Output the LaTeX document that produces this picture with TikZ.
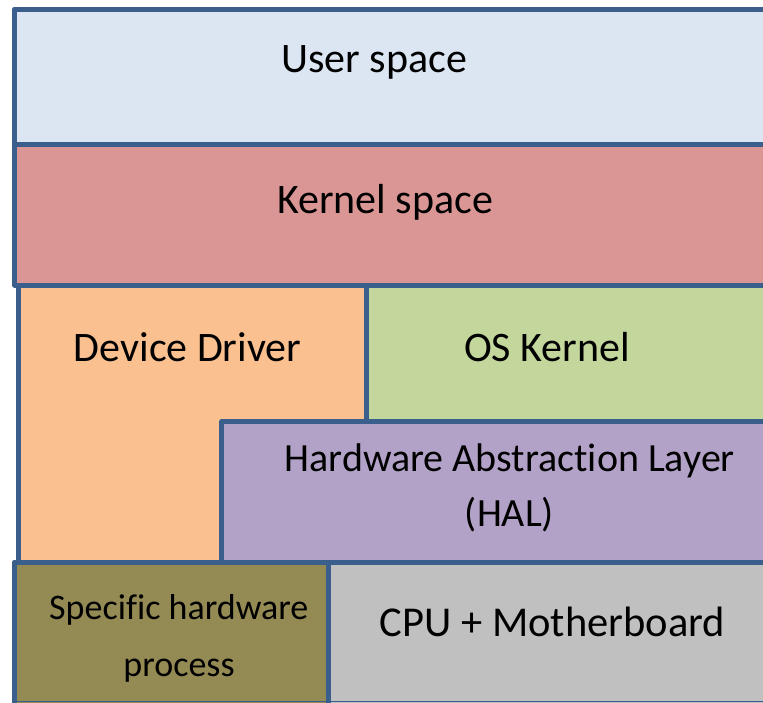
\documentclass[tikz,border=0pt]{standalone}
\usepackage{fontspec}
\setmainfont{Carlito}[Ligatures=NoCommon]
\definecolor{bord}{HTML}{3A5F8C}
\definecolor{userc}{HTML}{DCE6F2}
\definecolor{kernc}{HTML}{D99694}
\definecolor{ddc}{HTML}{FAC090}
\definecolor{osc}{HTML}{C3D69B}
\definecolor{halc}{HTML}{B3A2C7}
\definecolor{hwc}{HTML}{948A54}
\definecolor{cpuc}{HTML}{C0C0C0}
\begin{document}
\begin{tikzpicture}[x=1pt,y=-1pt,
  edge/.style={draw=bord,line width=5pt,line join=round,line cap=rect},
  lbl/.style={inner sep=0pt,anchor=base,text=black},
  big/.style={font=\fontsize{42}{50}\selectfont},
  cpuf/.style={font=\fontsize{42.5}{50}\selectfont},
  mid/.style={font=\fontsize{40}{48}\selectfont},
  small/.style={font=\fontsize{36}{43}\selectfont}]
\useasboundingbox (0,0) rectangle (763,702);
\begin{scope}
\clip (0,0) rectangle (763,702);
% fills
\fill[userc] (14.5,9) rectangle (790,144);
\fill[kernc] (14.5,144) rectangle (790,285);
\fill[ddc] (18,285) rectangle (366.5,562);
\fill[osc] (366.5,285) rectangle (790,421.5);
\fill[halc] (221.5,421.5) rectangle (790,562);
\fill[hwc] (14.5,562) rectangle (328,705);
\fill[cpuc] (328,562) rectangle (790,705);
% borders
\draw[edge] (790,9) -- (14.5,9) -- (14.5,285) -- (790,285);
\draw[edge] (14.5,144) -- (790,144);
\draw[edge] (18,285) -- (18,562);
\draw[edge] (366.5,285) -- (366.5,421.5);
\draw[edge] (790,421.5) -- (221.5,421.5) -- (221.5,562);
\draw[edge] (790,562) -- (14.5,562) -- (14.5,705);
\draw[edge] (328,562) -- (328,705);
\draw[bord,line width=1pt] (14.5,701.6) -- (790,701.6);
\end{scope}
% labels
\node[lbl,big] (user) at (374.2,72.7) {User space};
\node[lbl,big] (kern) at (385,213) {Kernel space};
\node[lbl,big] (dd) at (187.6,361.7) {Device Driver};
\node[lbl,big] (os) at (547,361.7) {OS Kernel};
\node[lbl,mid] (hal1) at (509.7,471.7) {Hardware Abstraction Layer};
\node[lbl,mid] (hal2) at (509.5,526.7) {(HAL)};
\node[lbl,small] (hw1) at (178.8,619.5) {Specific hardware};
\node[lbl,small] (hw2) at (179,676) {process};
\node[lbl,cpuf] (cpu) at (552.5,636.7) {CPU + Motherboard};
\end{tikzpicture}
\end{document}
